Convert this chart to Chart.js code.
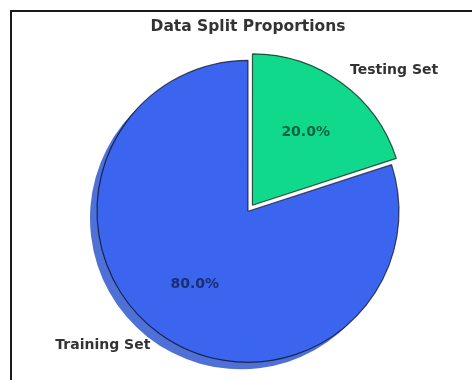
<!DOCTYPE html>
<html>
<head>
<meta charset="utf-8">
<script src="https://cdn.jsdelivr.net/npm/chart.js@4"></script>
<style>
  html, body { margin: 0; padding: 0; background: #fff; overflow: hidden; }
  #frame { position: absolute; left: 10px; top: 10px; width: 500px; height: 420px; border: 2px solid #1a1a1a; }
  #wrap { position: absolute; left: 0; top: 0; width: 472px; height: 380px; }
</style>
</head>
<body>
<div id="frame"></div>
<div id="wrap"><canvas id="myChart" width="472" height="380"></canvas></div>
<script>
// Data
const labels = ['Training Set', 'Testing Set'];
const shares = [80, 20];
const explodeOffsets = [0, 30]; // chart.js arc offset (draws offset/4 px)

const fills = ['#3b64ef', '#10d98b'];
const shadows = ['#4f70d6', null]; // green shadow is hidden in the original
const textColor = '#333333';

// shadow under the wedges, like matplotlib shadow=True
const shadowPlugin = {
  id: 'wedgeShadow',
  beforeDatasetsDraw(chart) {
    const ctx = chart.ctx;
    const meta = chart.getDatasetMeta(0);
    meta.data.forEach((arc, i) => {
      if (!shadows[i]) return;
      const p = arc.getProps(['x', 'y', 'startAngle', 'endAngle', 'outerRadius']);
      const off = (arc.options.offset || 0) / 4;
      const mid = (p.startAngle + p.endAngle) / 2;
      const cx = p.x + Math.cos(mid) * off - 7;
      const cy = p.y + Math.sin(mid) * off + 7;
      ctx.save();
      ctx.beginPath();
      ctx.moveTo(cx, cy);
      ctx.arc(cx, cy, p.outerRadius, p.startAngle, p.endAngle);
      ctx.closePath();
      ctx.fillStyle = shadows[i];
      ctx.fill();
      ctx.restore();
    });
  }
};

// category labels outside and percentages inside
const pieLabels = {
  id: 'pieLabels',
  afterDatasetsDraw(chart) {
    const ctx = chart.ctx;
    const meta = chart.getDatasetMeta(0);
    const total = shares.reduce((a, b) => a + b, 0);
    meta.data.forEach((arc, i) => {
      const p = arc.getProps(['x', 'y', 'startAngle', 'endAngle', 'outerRadius']);
      const off = (arc.options.offset || 0) / 4;
      const mid = (p.startAngle + p.endAngle) / 2;
      const cx = p.x + Math.cos(mid) * off;
      const cy = p.y + Math.sin(mid) * off;
      const r = p.outerRadius;
      ctx.save();
      ctx.textBaseline = 'middle';
      // percentage
      ctx.font = 'bold 14px "DejaVu Sans"';
      ctx.textAlign = 'center';
      ctx.fillStyle = 'rgba(0,0,0,0.55)';
      const pct = (shares[i] / total * 100).toFixed(1) + '%';
      ctx.fillText(pct, cx + Math.cos(mid) * r * 0.6, cy + Math.sin(mid) * r * 0.6);
      // label
      const lx = cx + Math.cos(mid) * r * 1.1;
      const ly = cy + Math.sin(mid) * r * 1.1;
      ctx.textAlign = Math.cos(mid) < 0 ? 'right' : 'left';
      ctx.fillStyle = textColor;
      ctx.fillText(labels[i], lx, ly);
      ctx.restore();
    });
  }
};

const ctx = document.getElementById('myChart').getContext('2d');
const myChart = new Chart(ctx, {
  type: 'pie',
  data: {
    labels: labels,
    datasets: [{
      data: shares,
      backgroundColor: fills,
      borderColor: 'rgba(0,0,0,0.65)',
      borderWidth: 1.2,
      offset: explodeOffsets,
      hoverOffset: 0
    }]
  },
  options: {
    responsive: false,
    animation: false,
    events: [],
    rotation: 72,
    radius: 151,
    layout: { padding: { left: 24, right: 0, top: 0, bottom: 0 } },
    plugins: {
      legend: { display: false },
      tooltip: { enabled: false },
      title: {
        display: true,
        text: 'Data Split Proportions',
        color: textColor,
        font: { family: 'DejaVu Sans', size: 15.5, weight: 'bold' },
        padding: { top: 18, bottom: 6 }
      }
    }
  },
  plugins: [shadowPlugin, pieLabels]
});
</script>
</body>
</html>
